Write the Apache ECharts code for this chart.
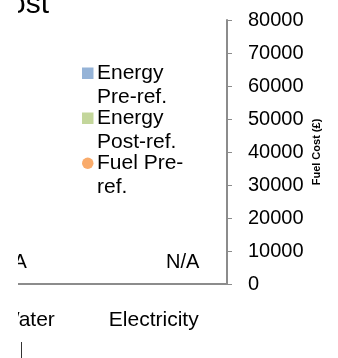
<!DOCTYPE html>
<html>
<head>
<meta charset="utf-8">
<script src="https://cdn.jsdelivr.net/npm/echarts@6/dist/echarts.min.js"></script>
<style>
  html, body { margin: 0; padding: 0; background: #fff; width: 338px; height: 358px; overflow: hidden; }
  #chart { position: absolute; left: 18px; top: 0; width: 320px; height: 358px; }
</style>
</head>
<body>
<div id="chart"></div>
<script>
// Categories shown on the x axis
const categories = ['Water', 'Electricity'];
// Energy figures per category; null means no figure is available (shown as N/A)
const energyPreRef = [null, 0];
const energyPostRef = [0, null];
// Fuel cost (£) per category, right-hand axis
const fuelPreRef = [null, null];
// Right axis scale
const fuelMin = 0;
const fuelMax = 80000;
const fuelStep = 10000;
// Series names and how they wrap in the legend
const seriesNames = ['Energy Pre-ref.', 'Energy Post-ref.', 'Fuel Pre-ref.'];
const legendLines = {
  'Energy Pre-ref.': ['Energy', 'Pre-ref.'],
  'Energy Post-ref.': ['Energy', 'Post-ref.'],
  'Fuel Pre-ref.': ['Fuel Pre-', 'ref.']
};

const FONT = '"Liberation Sans", Arial, sans-serif';
const AXIS_GREY = '#8c8c8c';

// Missing values become zero-height bars carrying an N/A label
function toBarData(values) {
  return values.map(v => v === null
    ? { value: 0, label: { show: true } }
    : { value: v });
}

const naLabel = {
  show: false,
  position: 'top',
  distance: 12,
  offset: [-4, 0],
  formatter: 'N/A',
  fontSize: 20,
  fontFamily: FONT,
  color: '#000'
};

const chart = echarts.init(document.getElementById('chart'), null, { renderer: 'canvas' });

chart.setOption({
  animation: false,
  color: ['#95B3D7', '#C3D69B', '#F79646'],
  title: {
    text: 'Energy and Fuel Cost',
    right: 289,
    top: -10,
    padding: 0,
    textStyle: { fontSize: 30, fontWeight: 'normal', color: '#000', fontFamily: FONT }
  },
  legend: {
    orient: 'vertical',
    left: 64,
    top: 38,
    padding: 0,
    itemGap: -25.5,
    itemWidth: 11.5,
    itemHeight: 11.5,
    data: [
      { name: seriesNames[0], icon: 'rect' },
      { name: seriesNames[1], icon: 'rect' },
      { name: seriesNames[2], icon: 'circle' }
    ],
    formatter: name => '\n' + legendLines[name].join('\n'),
    textStyle: { fontSize: 21, lineHeight: 23.5, color: '#000', fontFamily: FONT, padding: [0, 0, 0, -1.5] }
  },
  grid: { left: -44, right: 111, top: 20, bottom: 74, containLabel: false, outerBoundsMode: 'none' },
  xAxis: {
    type: 'category',
    data: categories,
    axisLine: { lineStyle: { color: AXIS_GREY, width: 2 } },
    axisTick: { show: false },
    axisLabel: {
      interval: 0,
      hideOverlap: false,
      margin: 26,
      fontSize: 21,
      fontFamily: FONT,
      color: '#000',
      padding: [0, 20, 0, 0]
    },
    splitLine: { show: false }
  },
  yAxis: [
    {
      type: 'value',
      show: false,
      min: 0
    },
    {
      type: 'value',
      position: 'right',
      min: fuelMin,
      max: fuelMax,
      interval: fuelStep,
      name: 'Fuel Cost (£)',
      nameLocation: 'middle',
      nameGap: 84,
      nameMoveOverlap: false,
      nameTextStyle: { fontSize: 11, fontWeight: 'bold', color: '#000', fontFamily: FONT },
      axisLine: { show: true, lineStyle: { color: AXIS_GREY, width: 2 } },
      axisTick: { show: true, length: 5, lineStyle: { color: AXIS_GREY, width: 1 } },
      axisLabel: { margin: 21, fontSize: 20, fontFamily: FONT, color: '#000', formatter: v => String(v) },
      splitLine: { show: false }
    }
  ],
  series: [
    {
      name: seriesNames[0],
      type: 'bar',
      yAxisIndex: 0,
      barWidth: 40,
      barGap: '15%',
      data: toBarData(energyPreRef),
      label: naLabel
    },
    {
      name: seriesNames[1],
      type: 'bar',
      yAxisIndex: 0,
      barWidth: 40,
      barGap: '15%',
      data: toBarData(energyPostRef),
      label: naLabel
    },
    {
      name: seriesNames[2],
      type: 'scatter',
      yAxisIndex: 1,
      symbol: 'circle',
      symbolSize: 10,
      data: fuelPreRef
    }
  ],
  graphic: [
    {
      type: 'line',
      shape: { x1: 3.5, y1: 342, x2: 3.5, y2: 358 },
      style: { stroke: '#333', lineWidth: 1 }
    }
  ]
});
</script>
</body>
</html>
